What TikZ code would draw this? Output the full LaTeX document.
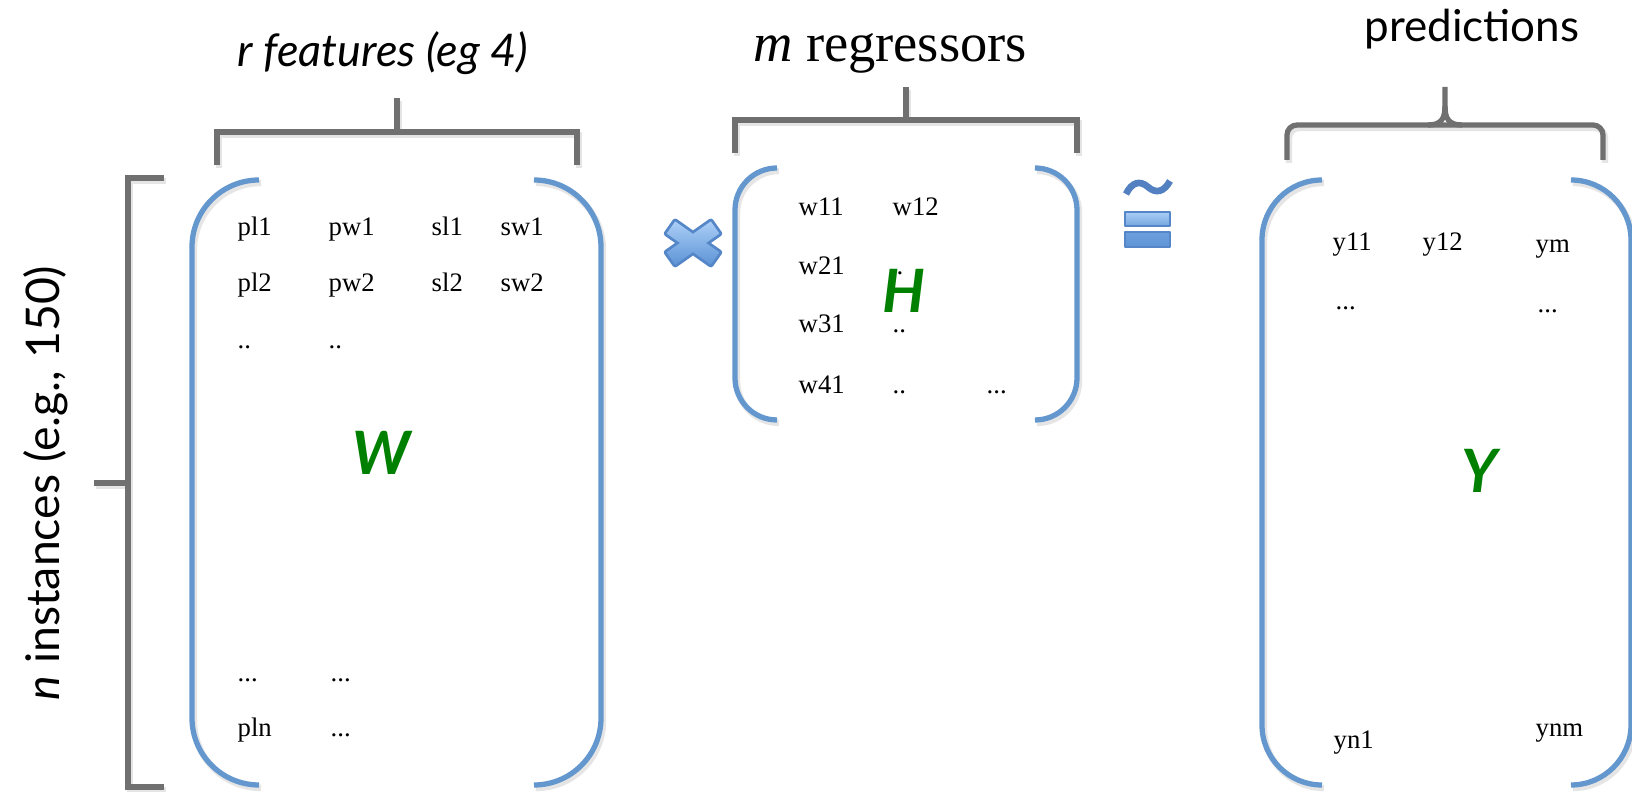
\documentclass[tikz,border=0pt]{standalone}
\usepackage{fontspec}
\setmainfont{Liberation Serif}
\newfontfamily\gillfont{Lato}

\definecolor{parblue}{RGB}{99,151,206}
\definecolor{bargray}{RGB}{112,112,112}
\definecolor{letgreen}{RGB}{0,128,0}
\definecolor{opedge}{RGB}{84,134,200}
\definecolor{optop}{RGB}{170,206,246}
\definecolor{opbottom}{RGB}{94,148,214}
\definecolor{tildeblue}{RGB}{82,128,192}

\tikzset{
  paren/.style={draw=parblue, line width=1.5pt},
  bracket/.style={draw=bargray, line width=1.5pt},
  drop/.style={draw=black!25, line width=1.8pt, opacity=0.4},
  entry/.style={font=\fontsize{7.6}{9}\selectfont, anchor=base west, inner sep=0pt},
  letter/.style={font=\gillfont\bfseries\itshape\fontsize{17}{20}\selectfont,
    text=letgreen, anchor=base, inner sep=0pt},
  title/.style={font=\gillfont\fontsize{12.5}{15}\selectfont, anchor=base, inner sep=0pt},
  opsign/.style={draw=opedge, line width=0.8pt, line join=round},
}

% round brackets of a matrix: left, top, right, bottom, corner radius
\newcommand{\matparens}[5]{%
  \draw[drop, rounded corners=#5*0.01cm, shift={(2,3)}]
    (#1+#5,#2) -- (#1,#2) -- (#1,#4) -- (#1+#5,#4)
    (#3-#5,#2) -- (#3,#2) -- (#3,#4) -- (#3-#5,#4);
  \draw[paren, rounded corners=#5*0.01cm]
    (#1+#5,#2) -- (#1,#2) -- (#1,#4) -- (#1+#5,#4)
    (#3-#5,#2) -- (#3,#2) -- (#3,#4) -- (#3-#5,#4);
}

% square bracket over a matrix: left, right, bar y, leg end y, stem x, stem top y
\newcommand{\capbracket}[6]{%
  \draw[drop, shift={(2,3)}] (#1,#4) -- (#1,#3) -- (#2,#3) -- (#2,#4) (#5,#3) -- (#5,#6);
  \draw[bracket] (#1,#4) -- (#1,#3) -- (#2,#3) -- (#2,#4) (#5,#3) -- (#5,#6);
}

\begin{document}
\begin{tikzpicture}[x=0.01cm, y=-0.01cm]
  \useasboundingbox (0,0) rectangle (1632,792);
  \fill[white] (0,0) rectangle (1632,792);

  % row bracket on the left
  \draw[drop, shift={(2,3)}] (164,178) -- (128,178) -- (128,787) -- (164,787) (94,483) -- (128,483);
  \draw[bracket] (164,178) -- (128,178) -- (128,787) -- (164,787) (94,483) -- (128,483);
  \node[title, rotate=90, font=\gillfont\fontsize{13.2}{15}\selectfont] (inst) at (59,483) {\textit{n} instances (e.g., 150)};

  % W
  \capbracket{217}{577}{132}{165}{397}{98}
  \node[title, font=\gillfont\itshape\fontsize{12.8}{15}\selectfont] (feat) at (383,67) {r features (eg 4)};
  \matparens{192}{180}{601}{785}{67}
  \node[entry] (pl1) at (237,236) {pl1};
  \node[entry] (pw1) at (328,236) {pw1};
  \node[entry] (sl1) at (431,236) {sl1};
  \node[entry] (sw1) at (500,236) {sw1};
  \node[entry] (pl2) at (237,292) {pl2};
  \node[entry] (pw2) at (328,292) {pw2};
  \node[entry] (sl2) at (431,292) {sl2};
  \node[entry] (sw2) at (500,292) {sw2};
  \node[entry] (wdots1) at (237,349) {..};
  \node[entry] (wdots2) at (328,349) {..};
  \node[entry] (wdots3) at (237,682) {...};
  \node[entry] (wdots4) at (330,682) {...};
  \node[entry] (pln) at (237,737) {pln};
  \node[entry] (wdots5) at (330,737) {...};
  \node[letter] (Wlab) at (381,475) {W};

  % multiplication sign
  \begin{scope}[shift={(693,243)}]
    \draw[opsign, line width=1.6pt]
      (17.8,21.6) -- (-26.4,-9.4) -- (-17.8,-21.6) -- (26.4,9.4) -- cycle
      (-26.4,9.4) -- (17.8,-21.6) -- (26.4,-9.4) -- (-17.8,21.6) -- cycle;
    \shade[top color=optop, bottom color=opbottom]
      (17.8,21.6) -- (-26.4,-9.4) -- (-17.8,-21.6) -- (26.4,9.4) -- cycle;
    \shade[top color=optop, bottom color=opbottom]
      (-26.4,9.4) -- (17.8,-21.6) -- (26.4,-9.4) -- (-17.8,21.6) -- cycle;
  \end{scope}

  % H
  \capbracket{735}{1077}{120}{153}{906}{87}
  \node[anchor=base, inner sep=0pt, font=\fontsize{15.5}{18}\selectfont] (regr) at (890,62) {\textit{m} regressors};
  \matparens{735}{168}{1077}{420}{42}
  \node[entry] (w11) at (798,216) {w11};
  \node[entry] (w12) at (892,216) {w12};
  \node[entry] (w21) at (798,275) {w21};
  \node[entry] (hdots1) at (896,275) {.};
  \node[entry] (w31) at (798,333) {w31};
  \node[entry] (hdots2) at (892,333) {..};
  \node[entry] (w41) at (798,394) {w41};
  \node[entry] (hdots3) at (892,394) {..};
  \node[entry] (hdots4) at (986,394) {...};
  \node[letter] (Hlab) at (904,313) {H};

  % approximately equal sign
  \draw[tildeblue, line width=1.9pt]
    (1126,194) .. controls (1132,182) and (1140,180) .. (1148,187)
    .. controls (1156,194) and (1164,192) .. (1170,181);
  \shadedraw[opsign, top color=optop, bottom color=opbottom!70!optop] (1125,212) rectangle (1170,226);
  \shadedraw[opsign, top color=opbottom!80!optop, bottom color=opbottom] (1125,232) rectangle (1170,247);

  % Y
  \draw[drop, shift={(2,3)}, rounded corners=0.1cm] (1287,160) -- (1287,125) -- (1603,125) -- (1603,160);
  \draw[bracket, rounded corners=0.1cm] (1287,160) -- (1287,125) -- (1603,125) -- (1603,160);
  \draw[bracket] (1428,125) .. controls (1441,125) and (1445,119) .. (1445,106) -- (1445,87);
  \draw[bracket] (1462,125) .. controls (1449,125) and (1445,119) .. (1445,106);
  \node[title] (pred) at (1472,42) {predictions};
  \matparens{1262}{180}{1631}{785}{60}
  \node[entry] (y11) at (1332,251) {y11};
  \node[entry] (y12) at (1422,251) {y12};
  \node[entry] (ym) at (1535,253) {ym};
  \node[entry] (ydots1) at (1335,310) {...};
  \node[entry] (ydots2) at (1537,313) {...};
  \node[entry] (yn1) at (1333,749) {yn1};
  \node[entry] (ynm) at (1535,737) {ynm};
  \node[letter] (Ylab) at (1480,493) {Y};
\end{tikzpicture}
\end{document}
